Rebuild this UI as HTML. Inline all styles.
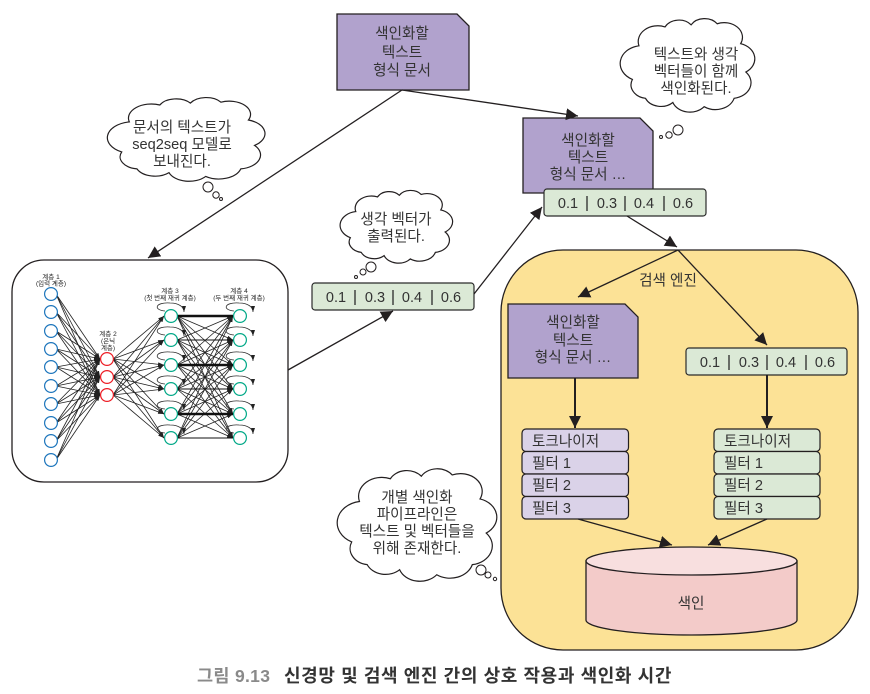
<!DOCTYPE html>
<html><head><meta charset="utf-8"><style>
html,body{margin:0;padding:0;background:#fff}
svg{display:block}
text{font-family:"Liberation Sans","Noto Sans CJK KR",sans-serif;fill:#333}
.t{font-size:14.6px;text-anchor:middle}
.l{font-size:14.6px}
.n{font-size:14.5px;text-anchor:middle}
.s{font-size:6.5px;text-anchor:middle;fill:#222}
.b{fill:#dbe9d6;stroke:#2b2b2b;stroke-width:1.2}
.v{stroke:#2b2b2b;stroke-width:1.3}
.c{fill:#fff;stroke:#231f20;stroke-width:1.2;vector-effect:non-scaling-stroke}
.o{fill:#fff;stroke:#231f20;stroke-width:1}
.a path{fill:none;stroke:#231f20;stroke-width:1.3}
.w path{fill:none;stroke:#222;stroke-width:.8}
.lp{fill:none;stroke:#333;stroke-width:.8}
</style></head><body>
<svg width="870" height="694" viewBox="0 0 870 694" xmlns="http://www.w3.org/2000/svg">
<defs>
<marker id="A" markerUnits="userSpaceOnUse" markerWidth="15" markerHeight="14" refX="12" refY="6" orient="auto"><path d="M0 0L12 6L0 12Z" fill="#231f20"/></marker>
<marker id="m" markerUnits="userSpaceOnUse" markerWidth="8" markerHeight="6" refX="6" refY="2" orient="auto"><path d="M0 0L6 2L0 4Z" fill="#222"/></marker>
<path id="cl" class="c" d="M7 62A17 17 0 0 1 12 30A15 15 0 0 1 32 12A12 12 0 0 1 52 10A12 12 0 0 1 72 9A14 14 0 0 1 90 28A15 15 0 0 1 94 55A15 15 0 0 1 85 80A15 15 0 0 1 62 88A14 14 0 0 1 38 84A13 13 0 0 1 17 80A13 13 0 0 1 7 62Z"/>
<path id="lo" class="lp" marker-end="url(#m)" d="M-6 -5C-18 -6 -16 -14 -1 -13C8 -13 13 -9 13 -4"/>
</defs>

<!-- yellow container -->
<rect x="501" y="250" width="357" height="400" rx="62" fill="#fce296" stroke="#231f20" stroke-width="1.3"/>
<!-- network container -->
<rect x="12" y="260" width="276" height="222" rx="32" fill="#fff" stroke="#231f20" stroke-width="1.3"/>

<!-- network -->
<g class="w" marker-end="url(#m)">
<path d="M56 294L100 359"/><path d="M56 294L100 377"/><path d="M56 294L100 395"/>
<path d="M56 312L100 359"/><path d="M56 312L100 377"/><path d="M56 312L100 395"/>
<path d="M56 331L100 359"/><path d="M56 331L100 377"/><path d="M56 331L100 395"/>
<path d="M56 349L100 359"/><path d="M56 349L100 377"/><path d="M56 349L100 395"/>
<path d="M56 367L100 359"/><path d="M56 367L100 377"/><path d="M56 367L100 395"/>
<path d="M56 386L100 359"/><path d="M56 386L100 377"/><path d="M56 386L100 395"/>
<path d="M56 404L100 359"/><path d="M56 404L100 377"/><path d="M56 404L100 395"/>
<path d="M56 423L100 359"/><path d="M56 423L100 377"/><path d="M56 423L100 395"/>
<path d="M56 441L100 359"/><path d="M56 441L100 377"/><path d="M56 441L100 395"/>
<path d="M56 460L100 359"/><path d="M56 460L100 377"/><path d="M56 460L100 395"/>
<path d="M113 359L164 316"/><path d="M113 359L164 340"/><path d="M113 359L164 365"/><path d="M113 359L164 389"/><path d="M113 359L164 414"/><path d="M113 359L164 438"/>
<path d="M113 377L164 316"/><path d="M113 377L164 340"/><path d="M113 377L164 365"/><path d="M113 377L164 389"/><path d="M113 377L164 414"/><path d="M113 377L164 438"/>
<path d="M113 395L164 316"/><path d="M113 395L164 340"/><path d="M113 395L164 365"/><path d="M113 395L164 389"/><path d="M113 395L164 414"/><path d="M113 395L164 438"/>
<path d="M177 316L233 340"/><path d="M177 316L233 365"/><path d="M177 316L233 389"/><path d="M177 316L233 414"/><path d="M177 316L233 438"/>
<path d="M177 340L233 316"/><path d="M177 340L233 365"/><path d="M177 340L233 389"/><path d="M177 340L233 414"/><path d="M177 340L233 438"/>
<path d="M177 365L233 316"/><path d="M177 365L233 340"/><path d="M177 365L233 389"/><path d="M177 365L233 414"/><path d="M177 365L233 438"/>
<path d="M177 389L233 316"/><path d="M177 389L233 340"/><path d="M177 389L233 365"/><path d="M177 389L233 414"/><path d="M177 389L233 438"/>
<path d="M177 414L233 316"/><path d="M177 414L233 340"/><path d="M177 414L233 365"/><path d="M177 414L233 389"/><path d="M177 414L233 438"/>
<path d="M177 438L233 316"/><path d="M177 438L233 340"/><path d="M177 438L233 365"/><path d="M177 438L233 389"/><path d="M177 438L233 414"/>
</g>
<g stroke="#111" fill="none">
<path d="M177 316H233" stroke-width="2.4"/><path d="M177 340H233" stroke-width="1.1"/><path d="M177 365H233" stroke-width="2.4"/><path d="M177 389H233" stroke-width="1.1"/><path d="M177 414H233" stroke-width="2.4"/><path d="M177 438H233" stroke-width="1.1"/>
</g>
<use href="#lo" x="171" y="316"/><use href="#lo" x="171" y="340"/><use href="#lo" x="171" y="365"/><use href="#lo" x="171" y="389"/><use href="#lo" x="171" y="414"/><use href="#lo" x="171" y="438"/>
<use href="#lo" x="240" y="316"/><use href="#lo" x="240" y="340"/><use href="#lo" x="240" y="365"/><use href="#lo" x="240" y="389"/><use href="#lo" x="240" y="414"/><use href="#lo" x="240" y="438"/>
<g fill="#fff" stroke="#1c75bc" stroke-width="1.2">
<circle cx="51" cy="294" r="6.4"/><circle cx="51" cy="312" r="6.4"/><circle cx="51" cy="331" r="6.4"/><circle cx="51" cy="349" r="6.4"/><circle cx="51" cy="367" r="6.4"/><circle cx="51" cy="386" r="6.4"/><circle cx="51" cy="404" r="6.4"/><circle cx="51" cy="423" r="6.4"/><circle cx="51" cy="441" r="6.4"/><circle cx="51" cy="460" r="6.4"/>
</g>
<g fill="#fff" stroke="#ed1c24" stroke-width="1.2">
<circle cx="107" cy="359" r="6.4"/><circle cx="107" cy="377" r="6.4"/><circle cx="107" cy="395" r="6.4"/>
</g>
<g fill="#fff" stroke="#00a887" stroke-width="1.2">
<circle cx="171" cy="316" r="6.4"/><circle cx="171" cy="340" r="6.4"/><circle cx="171" cy="365" r="6.4"/><circle cx="171" cy="389" r="6.4"/><circle cx="171" cy="414" r="6.4"/><circle cx="171" cy="438" r="6.4"/>
<circle cx="240" cy="316" r="6.4"/><circle cx="240" cy="340" r="6.4"/><circle cx="240" cy="365" r="6.4"/><circle cx="240" cy="389" r="6.4"/><circle cx="240" cy="414" r="6.4"/><circle cx="240" cy="438" r="6.4"/>
</g>
<text class="s" x="51" y="279">계층 1</text><text class="s" x="51" y="285.500">(입력 계층)</text>
<text class="s" x="108" y="336">계층 2</text><text class="s" x="108" y="343">(은닉</text><text class="s" x="108" y="350">계층)</text>
<text class="s" x="170" y="293">계층 3</text><text class="s" x="170" y="300">(첫 번째 재귀 계층)</text>
<text class="s" x="239" y="293">계층 4</text><text class="s" x="239" y="300">(두 번째 재귀 계층)</text>

<!-- documents -->
<path d="M337 14H457L469 26V90H337Z" fill="#b1a2cd" stroke="#231f20" stroke-width="1.3"/>
<text class="t" x="402" y="38">색인화할</text><text class="t" x="402" y="57">텍스트</text><text class="t" x="402" y="75">형식 문서</text>
<path d="M523 118H640L653 131V193H523Z" fill="#b1a2cd" stroke="#231f20" stroke-width="1.3"/>
<text class="t" x="588" y="145">색인화할</text><text class="t" x="588" y="162">텍스트</text><text class="t" x="588" y="179">형식 문서 …</text>
<path d="M508 304H625L638 317V378H508Z" fill="#b1a2cd" stroke="#231f20" stroke-width="1.3"/>
<text class="t" x="573" y="327">색인화할</text><text class="t" x="573" y="345">텍스트</text><text class="t" x="573" y="362">형식 문서 …</text>

<!-- vector bars -->
<rect class="b" x="544" y="189" width="162" height="27" rx="3"/>
<text class="n" x="568" y="208">0.1</text><text class="n" x="607" y="208">0.3</text><text class="n" x="644" y="208">0.4</text><text class="n" x="683" y="208">0.6</text>
<path class="v" d="M587 196V211M625 196V211M664 196V211"/>
<rect class="b" x="312" y="283" width="162" height="27" rx="3"/>
<text class="n" x="336" y="302">0.1</text><text class="n" x="375" y="302">0.3</text><text class="n" x="412" y="302">0.4</text><text class="n" x="451" y="302">0.6</text>
<path class="v" d="M355 290V305M393 290V305M432 290V305"/>
<rect class="b" x="686" y="348" width="161" height="27" rx="3"/>
<text class="n" x="710" y="367">0.1</text><text class="n" x="749" y="367">0.3</text><text class="n" x="786" y="367">0.4</text><text class="n" x="825" y="367">0.6</text>
<path class="v" d="M729 355V370M767 355V370M806 355V370"/>

<text class="t" x="668" y="285">검색 엔진</text>

<!-- stacks -->
<g fill="#dad2e8" stroke="#231f20" stroke-width="1.2">
<rect x="522" y="429" width="106.500" height="22.500" rx="4"/><rect x="522" y="451.500" width="106.500" height="22.500" rx="4"/><rect x="522" y="474" width="106.500" height="22.500" rx="4"/><rect x="522" y="496.500" width="106.500" height="22.500" rx="4"/>
</g>
<text class="l" x="532" y="446">토크나이저</text><text class="l" x="532" y="468">필터 1</text><text class="l" x="532" y="490">필터 2</text><text class="l" x="532" y="513">필터 3</text>
<g fill="#dbe9d6" stroke="#231f20" stroke-width="1.2">
<rect x="714" y="429" width="106" height="22.500" rx="4"/><rect x="714" y="451.500" width="106" height="22.500" rx="4"/><rect x="714" y="474" width="106" height="22.500" rx="4"/><rect x="714" y="496.500" width="106" height="22.500" rx="4"/>
</g>
<text class="l" x="724" y="446">토크나이저</text><text class="l" x="724" y="468">필터 1</text><text class="l" x="724" y="490">필터 2</text><text class="l" x="724" y="513">필터 3</text>

<!-- cylinder -->
<path d="M586 561V620C586 628 633 635 691.500 635C750 635 797 628 797 620V561Z" fill="#f3cbc9" stroke="#231f20" stroke-width="1.3"/>
<ellipse cx="691.500" cy="561" rx="105.500" ry="14" fill="#f8dfdf" stroke="#231f20" stroke-width="1.3"/>
<text class="t" x="691" y="608">색인</text>

<!-- arrows -->
<g class="a" marker-end="url(#A)">
<path d="M402 90L148 258"/>
<path d="M402 90L578 116"/>
<path d="M288 370L393 311"/>
<path d="M474 294L542 207"/>
<path d="M627 216L677 247"/>
<path d="M678 250L578 297"/>
<path d="M678 250L767 345"/>
<path d="M575 378V428" style="stroke-width:2"/>
<path d="M767 375V428" style="stroke-width:2"/>
<path d="M578 519L672 545"/>
<path d="M767 519L708 545"/>
</g>

<!-- clouds -->
<use href="#cl" transform="translate(111 93.700) scale(1.527 .94)"/>
<circle class="o" cx="208" cy="187" r="5"/><circle class="o" cx="216" cy="195" r="3.200"/><circle class="o" cx="221" cy="199" r="1.500"/>
<text class="t" x="182" y="132">문서의 텍스트가</text><text class="t" x="182" y="149">seq2seq 모델로</text><text class="t" x="182" y="166">보내진다.</text>

<use href="#cl" transform="translate(342.700 187.100) scale(1.09 .816)"/>
<circle class="o" cx="371" cy="267" r="5"/><circle class="o" cx="363" cy="272" r="3"/><circle class="o" cx="356" cy="277" r="1.500"/>
<text class="t" x="396" y="224">생각 벡터가</text><text class="t" x="396" y="241">출력된다.</text>

<use href="#cl" transform="translate(623.300 14.300) scale(1.304 1.05)"/>
<circle class="o" cx="678" cy="130" r="5"/><circle class="o" cx="669" cy="135" r="3.200"/><circle class="o" cx="661" cy="137" r="1.500"/>
<text class="t" x="696" y="59">텍스트와 생각</text><text class="t" x="696" y="76">벡터들이 함께</text><text class="t" x="696" y="93">색인화된다.</text>

<use href="#cl" transform="translate(340.900 463.600) scale(1.546 1.263)"/>
<circle class="o" cx="481" cy="570" r="5"/><circle class="o" cx="488" cy="575" r="3"/><circle class="o" cx="495" cy="579" r="1.700"/>
<text class="t" x="417" y="502">개별 색인화</text><text class="t" x="417" y="519">파이프라인은</text><text class="t" x="417" y="536">텍스트 및 벡터들을</text><text class="t" x="417" y="553">위해 존재한다.</text>

<!-- caption -->
<text x="197" y="682" style="font-size:17.500px;font-weight:700;fill:#8a8a8a;letter-spacing:.3px">그림 9.13</text>
<text x="284" y="682" style="font-size:18px;font-weight:700;fill:#333;letter-spacing:.6px">신경망 및 검색 엔진 간의 상호 작용과 색인화 시간</text>
</svg>
</body></html>
